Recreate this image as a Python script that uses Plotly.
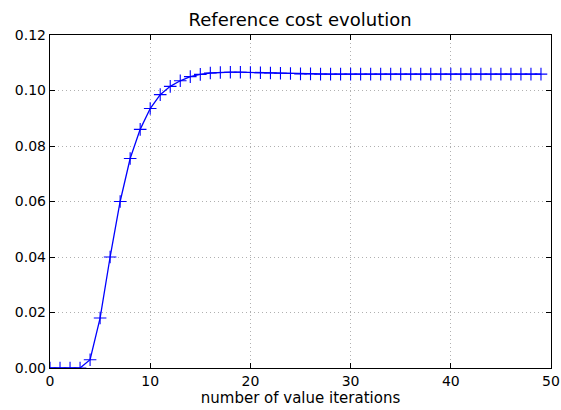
import plotly.graph_objects as go

iterations = list(range(50))
cost = [0.0, 0.0, 0.0, 0.0, 0.003, 0.018, 0.040, 0.060, 0.0755, 0.086,
        0.0935, 0.0985, 0.1015, 0.1035, 0.1050, 0.1058, 0.1063, 0.1065, 0.1066, 0.1066,
        0.1065, 0.1064, 0.1063, 0.1062, 0.1061, 0.1060, 0.1060, 0.1059, 0.1059, 0.1059,
        0.1059, 0.1059, 0.1059, 0.1059, 0.1059, 0.1059, 0.1059, 0.1059, 0.1059, 0.1059,
        0.1059, 0.1059, 0.1059, 0.1059, 0.1059, 0.1059, 0.1059, 0.1059, 0.1059, 0.1059]
x_ticks = [0, 10, 20, 30, 40, 50]
y_ticks = [0.0, 0.02, 0.04, 0.06, 0.08, 0.10, 0.12]
y_tick_labels = ["0.00", "0.02", "0.04", "0.06", "0.08", "0.10", "0.12"]

fig = go.Figure()
fig.add_trace(go.Scatter(
    x=iterations, y=cost, mode="lines+markers",
    line=dict(color="#0000ff", width=1.3),
    marker=dict(symbol="cross-thin", size=9, color="#0000ff",
                line=dict(color="#0000ff", width=1.1)),
    showlegend=False, hoverinfo="skip",
))

axis_common = dict(
    showline=True, linecolor="black", linewidth=1.2, mirror="allticks",
    ticks="inside", ticklen=5, tickcolor="black", tickwidth=1,
    showgrid=True, gridcolor="#b0b0b0", griddash="1px,3px", gridwidth=1,
    zeroline=False, automargin=False,
    tickfont=dict(family="DejaVu Sans", size=14, color="black"),
)

fig.update_layout(
    width=561, height=410,
    margin=dict(l=50, r=10, t=35, b=42, autoexpand=False),
    paper_bgcolor="white", plot_bgcolor="white",
    title=dict(text="Reference cost evolution", x=0.535, xanchor="center",
               y=0.951, yanchor="middle", automargin=False,
               font=dict(family="DejaVu Sans", size=18, color="black")),
    xaxis=dict(range=[0, 50], tickvals=x_ticks,
               title=dict(text="number of value iterations", standoff=4,
                          font=dict(family="DejaVu Sans", size=15, color="black")),
               **axis_common),
    yaxis=dict(range=[0, 0.12], tickvals=y_ticks, ticktext=y_tick_labels,
               **axis_common),
)

# remove the browser's default 8px page margin so the figure sits at the window origin
fig.write_html("out.html",
               config={"displayModeBar": False, "staticPlot": True},
               post_script="document.body.style.margin='0';document.body.style.overflow='hidden';")
